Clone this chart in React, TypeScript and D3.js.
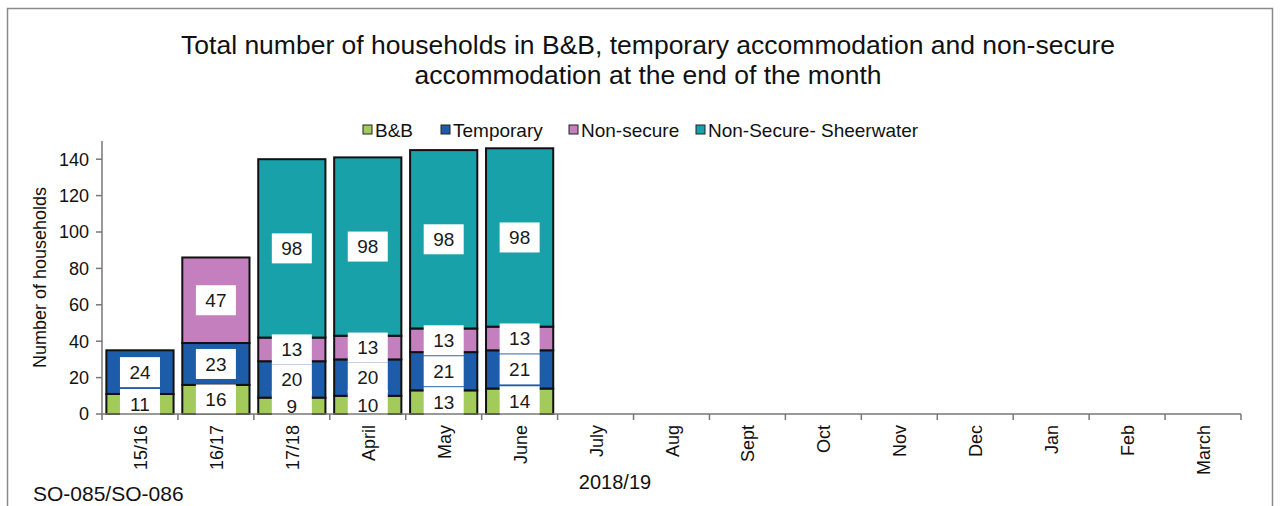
import React from "react";
import * as d3 from "d3";

const categories = ["15/16", "16/17", "17/18", "April", "May", "June", "July", "Aug", "Sept", "Oct", "Nov", "Dec", "Jan", "Feb", "March"];
const seriesNames = ["B&B", "Temporary", "Non-secure", "Non-Secure- Sheerwater"];
const bnb = [11, 16, 9, 10, 13, 14, null, null, null, null, null, null, null, null, null];
const temporary = [24, 23, 20, 20, 21, 21, null, null, null, null, null, null, null, null, null];
const nonSecure = [null, 47, 13, 13, 13, 13, null, null, null, null, null, null, null, null, null];
const sheerwater = [null, null, 98, 98, 98, 98, null, null, null, null, null, null, null, null, null];
const yTicks = [0, 20, 40, 60, 80, 100, 120, 140];
const colors = ["#a2cb5c", "#1d5ca8", "#c47fbf", "#19a1a9"];

const W = 1280, H = 506;
const M = { left: 102, right: 1241, top: 141, bottom: 414 };
const FONT = "'Liberation Sans', Arial, sans-serif";

export default function App() {
  const x = d3.scaleBand<string>().domain(categories).range([M.left, M.right]).paddingInner(0.115).paddingOuter(0.0575);
  const xb = d3.scaleBand<string>().domain(categories).range([M.left, M.right]);
  const y = d3.scaleLinear().domain([0, 150]).range([M.bottom, M.top]);
  const series = [bnb, temporary, nonSecure, sheerwater];

  const bars: React.ReactNode[] = [];
  const labels: React.ReactNode[] = [];
  categories.forEach((c, i) => {
    let acc = 0;
    series.forEach((s, k) => {
      const v = s[i];
      if (v == null) return;
      const y0 = y(acc), y1 = y(acc + v);
      bars.push(
        <rect key={`b${i}-${k}`} x={x(c)} y={y1} width={x.bandwidth()} height={y0 - y1}
          fill={colors[k]} stroke="#111" strokeWidth={2} />
      );
      const cy = y(acc + v / 2);
      const cx = (x(c) as number) + x.bandwidth() / 2;
      labels.push(
        <g key={`l${i}-${k}`}>
          <rect x={cx - 20} y={cy - 15} width={40} height={30} fill="#fff" />
          <text x={cx} y={cy} dy="0.36em" textAnchor="middle" fontSize={19} fill="#1a1a1a">{v}</text>
        </g>
      );
      acc += v;
    });
  });

  const legendItems = [
    { x: 363, label: seriesNames[0] },
    { x: 441, label: seriesNames[1] },
    { x: 569, label: seriesNames[2] },
    { x: 696, label: seriesNames[3] },
  ];

  return (
    <svg width={W} height={H} style={{ position: "absolute", left: 0, top: 0, fontFamily: FONT }}>
      <rect x={0} y={0} width={W} height={H} fill="#fff" />
      <rect x={7.5} y={8.5} width={1265} height={510} fill="none" stroke="#8a8a8a" strokeWidth={1.5} />
      <text x={648} y={54} textAnchor="middle" fontSize={26.5} fill="#111">Total number of households in B&amp;B, temporary accommodation and non-secure</text>
      <text x={648} y={84} textAnchor="middle" fontSize={26.5} fill="#111">accommodation at the end of the month</text>

      {legendItems.map((it, k) => (
        <g key={k}>
          <rect x={it.x} y={125} width={9} height={9} fill={colors[k]} stroke="#222" strokeWidth={1} />
          <text x={it.x + 12} y={137} fontSize={19} fill="#111">{it.label}</text>
        </g>
      ))}

      {bars}
      {labels}

      <line x1={M.left} x2={M.left} y1={M.top} y2={M.bottom} stroke="#777" strokeWidth={1.5} />
      {yTicks.map(t => (
        <g key={t}>
          <line x1={M.left - 6} x2={M.left} y1={y(t)} y2={y(t)} stroke="#777" strokeWidth={1.5} />
          <text x={M.left - 13} y={y(t)} dy="0.36em" textAnchor="end" fontSize={18} fill="#111">{t}</text>
        </g>
      ))}
      <line x1={M.left} x2={M.right} y1={M.bottom} y2={M.bottom} stroke="#777" strokeWidth={1.5} />
      {categories.map((c, i) => (
        <line key={`t${i}`} x1={(xb(c) as number) + xb.bandwidth()} x2={(xb(c) as number) + xb.bandwidth()} y1={M.bottom} y2={M.bottom + 6} stroke="#777" strokeWidth={1.5} />
      ))}
      <line x1={M.left} x2={M.left} y1={M.bottom} y2={M.bottom + 6} stroke="#777" strokeWidth={1.5} />
      {categories.map(c => {
        const cx = (xb(c) as number) + xb.bandwidth() / 2;
        return (
          <text key={c} transform={`translate(${cx + 7},${M.bottom + 11}) rotate(-90)`} textAnchor="end" fontSize={18} fill="#111">{c}</text>
        );
      })}
      <text transform={`translate(46,${(M.top + M.bottom) / 2}) rotate(-90)`} textAnchor="middle" fontSize={18} fill="#111">Number of households</text>
      <text x={615} y={489} textAnchor="middle" fontSize={20} fill="#111">2018/19</text>
      <text x={33} y={501} fontSize={21} fill="#111">SO-085/SO-086</text>
    </svg>
  );
}
